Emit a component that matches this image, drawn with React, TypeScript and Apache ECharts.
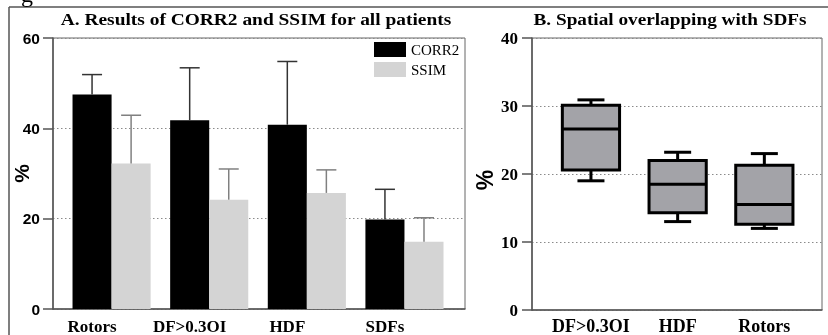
import React, { useEffect, useRef } from "react";
import * as echarts from "echarts";

// Panel A data
const catsA = ["Rotors", "DF>0.3OI", "HDF", "SDFs"];
const corr2 = [47.5, 41.8, 40.8, 19.8];
const corr2Err = [4.4, 11.6, 14.0, 6.7];
const ssim = [32.2, 24.2, 25.7, 14.9];
const ssimErr = [10.7, 6.8, 5.1, 5.3];
const ticksA = [0, 20, 40, 60];

// Panel B data: [low, q1, median, q3, high]
const catsB = ["DF>0.3OI", "HDF", "Rotors"];
const boxLow = [19.0, 13.0, 12.0];
const boxQ1 = [20.6, 14.3, 12.6];
const boxMed = [26.6, 18.5, 15.5];
const boxQ3 = [30.1, 22.0, 21.3];
const boxHigh = [30.9, 23.2, 23.0];
const ticksB = [0, 10, 20, 30, 40];

const SERIF = '"Liberation Serif", "Times New Roman", serif';
const SANS = '"Liberation Sans", Arial, sans-serif';

export default function App() {
  const ref = useRef<HTMLDivElement>(null);
  useEffect(() => {
    document.body.style.margin = "0";
    const chart = echarts.init(ref.current!, null, { renderer: "svg" });

    const barItem = (off: number, color: string, errColor: string) => (params: any, api: any) => {
      const i = api.value(0);
      const v = api.value(1);
      const e = api.value(2);
      const p0 = api.coord([i + off, v]);
      const p1 = api.coord([i + off + 0.4, 0]);
      const pe = api.coord([i + off + 0.2, v + e]);
      return {
        type: "group",
        children: [
          { type: "rect", shape: { x: p0[0], y: p0[1], width: p1[0] - p0[0], height: p1[1] - p0[1] }, style: { fill: color } },
          { type: "line", shape: { x1: pe[0], y1: p0[1], x2: pe[0], y2: pe[1] }, style: { stroke: errColor, lineWidth: 1.5 } },
          { type: "line", shape: { x1: pe[0] - 10, y1: pe[1], x2: pe[0] + 10, y2: pe[1] }, style: { stroke: errColor, lineWidth: 1.5 } },
        ],
      };
    };

    const boxItem = (params: any, api: any) => {
      const i = api.value(0);
      const lo = api.coord([i, api.value(1)]);
      const q1 = api.coord([i - 0.33, api.value(2)]);
      const q1r = api.coord([i + 0.33, api.value(2)]);
      const md = api.value(3);
      const q3 = api.coord([i - 0.33, api.value(4)]);
      const hi = api.coord([i, api.value(5)]);
      const mdl = api.coord([i - 0.33, md]);
      const mdr = api.coord([i + 0.33, md]);
      const cap = 13.5;
      const st = { stroke: "#000", lineWidth: 3 };
      return {
        type: "group",
        children: [
          { type: "line", shape: { x1: hi[0], y1: hi[1], x2: hi[0], y2: q3[1] }, style: st },
          { type: "line", shape: { x1: hi[0] - cap, y1: hi[1], x2: hi[0] + cap, y2: hi[1] }, style: st },
          { type: "line", shape: { x1: lo[0], y1: lo[1], x2: lo[0], y2: q1[1] }, style: st },
          { type: "line", shape: { x1: lo[0] - cap, y1: lo[1], x2: lo[0] + cap, y2: lo[1] }, style: st },
          {
            type: "rect",
            shape: { x: q3[0], y: q3[1], width: q1r[0] - q1[0], height: q1[1] - q3[1] },
            style: { fill: "#a3a3a8", stroke: "#000", lineWidth: 3 },
          },
          { type: "line", shape: { x1: mdl[0], y1: mdl[1], x2: mdr[0], y2: mdr[1] }, style: st },
        ],
      };
    };

    const gridLine = { show: true, lineStyle: { color: "#8a8a8a", type: [1.5, 2.5], width: 1 } };

    chart.setOption({
      animation: false,
      graphic: [
        { type: "line", shape: { x1: 9, y1: 7, x2: 828, y2: 7 }, style: { stroke: "#555", lineWidth: 1.5 } },
        { type: "line", shape: { x1: 9, y1: 7, x2: 9, y2: 335 }, style: { stroke: "#555", lineWidth: 1.5 } },
        { type: "text", style: { text: "g", x: 21, y: 6, font: `24px ${SERIF}`, fill: "#000", verticalAlign: "bottom" } },
        {
          type: "text",
          x: 256,
          y: 19,
          scaleX: 1.11,
          style: { text: "A. Results of CORR2 and SSIM for all patients", x: 0, y: 0, align: "center", verticalAlign: "middle", font: `bold 17.5px ${SERIF}`, fill: "#000" },
        },
        {
          type: "text",
          x: 670,
          y: 19,
          scaleX: 1.1,
          style: { text: "B. Spatial overlapping with SDFs", x: 0, y: 0, align: "center", verticalAlign: "middle", font: `bold 17.5px ${SERIF}`, fill: "#000" },
        },
      ],
      legend: {
        data: ["CORR2", "SSIM"],
        orient: "vertical",
        left: 374,
        top: 42,
        icon: "rect",
        itemWidth: 32,
        itemHeight: 15,
        itemGap: 5,
        padding: 0,
        textStyle: { fontFamily: SERIF, fontSize: 15, color: "#000", lineHeight: 15 },
      },
      grid: [
        { left: 53, top: 38, width: 412, height: 273, show: true, borderColor: "#666", borderWidth: 1, backgroundColor: "transparent" },
        { left: 532, top: 38, width: 290, height: 274, show: true, borderColor: "#666", borderWidth: 1, backgroundColor: "transparent" },
      ],
      xAxis: [
        {
          gridIndex: 0,
          type: "value",
          min: -0.6,
          max: 3.62,
          axisLine: { show: true, onZero: false, lineStyle: { color: "#555", width: 1.5 } },
          axisTick: { show: false },
          splitLine: { show: false },
          axisLabel: {
            customValues: catsA.map((_, i) => i - 0.2),
            formatter: (v: number) => catsA[Math.round(v + 0.2)] ?? "",
            fontFamily: SERIF,
            fontWeight: "bold",
            fontSize: 17,
            color: "#000",
            margin: 9,
          },
        },
        {
          gridIndex: 1,
          type: "value",
          min: -0.68,
          max: 2.665,
          axisLine: { show: true, onZero: false, lineStyle: { color: "#555", width: 1.5 } },
          axisTick: { show: false },
          splitLine: { show: false },
          axisLabel: {
            customValues: catsB.map((_, i) => i),
            formatter: (v: number) => catsB[Math.round(v)] ?? "",
            fontFamily: SERIF,
            fontWeight: "bold",
            fontSize: 18,
            color: "#000",
            margin: 7,
          },
        },
      ],
      yAxis: [
        {
          gridIndex: 0,
          type: "value",
          min: ticksA[0],
          max: ticksA[ticksA.length - 1],
          interval: 20,
          name: "%",
          nameLocation: "middle",
          nameRotate: 90,
          nameGap: 21,
          nameMoveOverlap: false,
          nameTextStyle: { fontFamily: SANS, fontWeight: "bold", fontSize: 21, color: "#000" },
          axisLine: { show: true, onZero: false, lineStyle: { color: "#555", width: 1.5 } },
          axisTick: { show: true, length: 10, lineStyle: { color: "#555", width: 1.5 } },
          splitLine: gridLine,
          axisLabel: { fontFamily: SANS, fontWeight: "bold", fontSize: 15.5, color: "#000", margin: 13 },
        },
        {
          gridIndex: 1,
          type: "value",
          min: ticksB[0],
          max: ticksB[ticksB.length - 1],
          interval: 10,
          name: "%",
          nameLocation: "middle",
          nameRotate: 90,
          nameGap: 36,
          nameMoveOverlap: false,
          nameTextStyle: { fontFamily: SANS, fontWeight: "bold", fontSize: 23, color: "#000", padding: [0, 12, 0, 0] },
          axisLine: { show: true, onZero: false, lineStyle: { color: "#555", width: 1.5 } },
          axisTick: { show: true, length: 10, lineStyle: { color: "#555", width: 1.5 } },
          splitLine: gridLine,
          axisLabel: { fontFamily: SERIF, fontWeight: "bold", fontSize: 17, color: "#000", margin: 14 },
        },
      ],
      series: [
        {
          name: "CORR2",
          type: "custom",
          xAxisIndex: 0,
          yAxisIndex: 0,
          itemStyle: { color: "#000" },
          renderItem: barItem(-0.4, "#000", "#333"),
          encode: { x: 0, y: 1 },
          data: catsA.map((_, i) => [i, corr2[i], corr2Err[i]]),
          z: 3,
        },
        {
          name: "SSIM",
          type: "custom",
          xAxisIndex: 0,
          yAxisIndex: 0,
          itemStyle: { color: "#d4d4d4" },
          renderItem: barItem(0, "#d4d4d4", "#808080"),
          encode: { x: 0, y: 1 },
          data: catsA.map((_, i) => [i, ssim[i], ssimErr[i]]),
          z: 3,
        },
        {
          name: "Overlap",
          type: "custom",
          xAxisIndex: 1,
          yAxisIndex: 1,
          renderItem: boxItem,
          encode: { x: 0, y: [1, 2, 3, 4, 5] },
          data: catsB.map((_, i) => [i, boxLow[i], boxQ1[i], boxMed[i], boxQ3[i], boxHigh[i]]),
          z: 3,
        },
      ],
    });
    return () => chart.dispose();
  }, []);
  return <div ref={ref} style={{ position: "fixed", left: 0, top: 0, width: 828, height: 335 }} />;
}
